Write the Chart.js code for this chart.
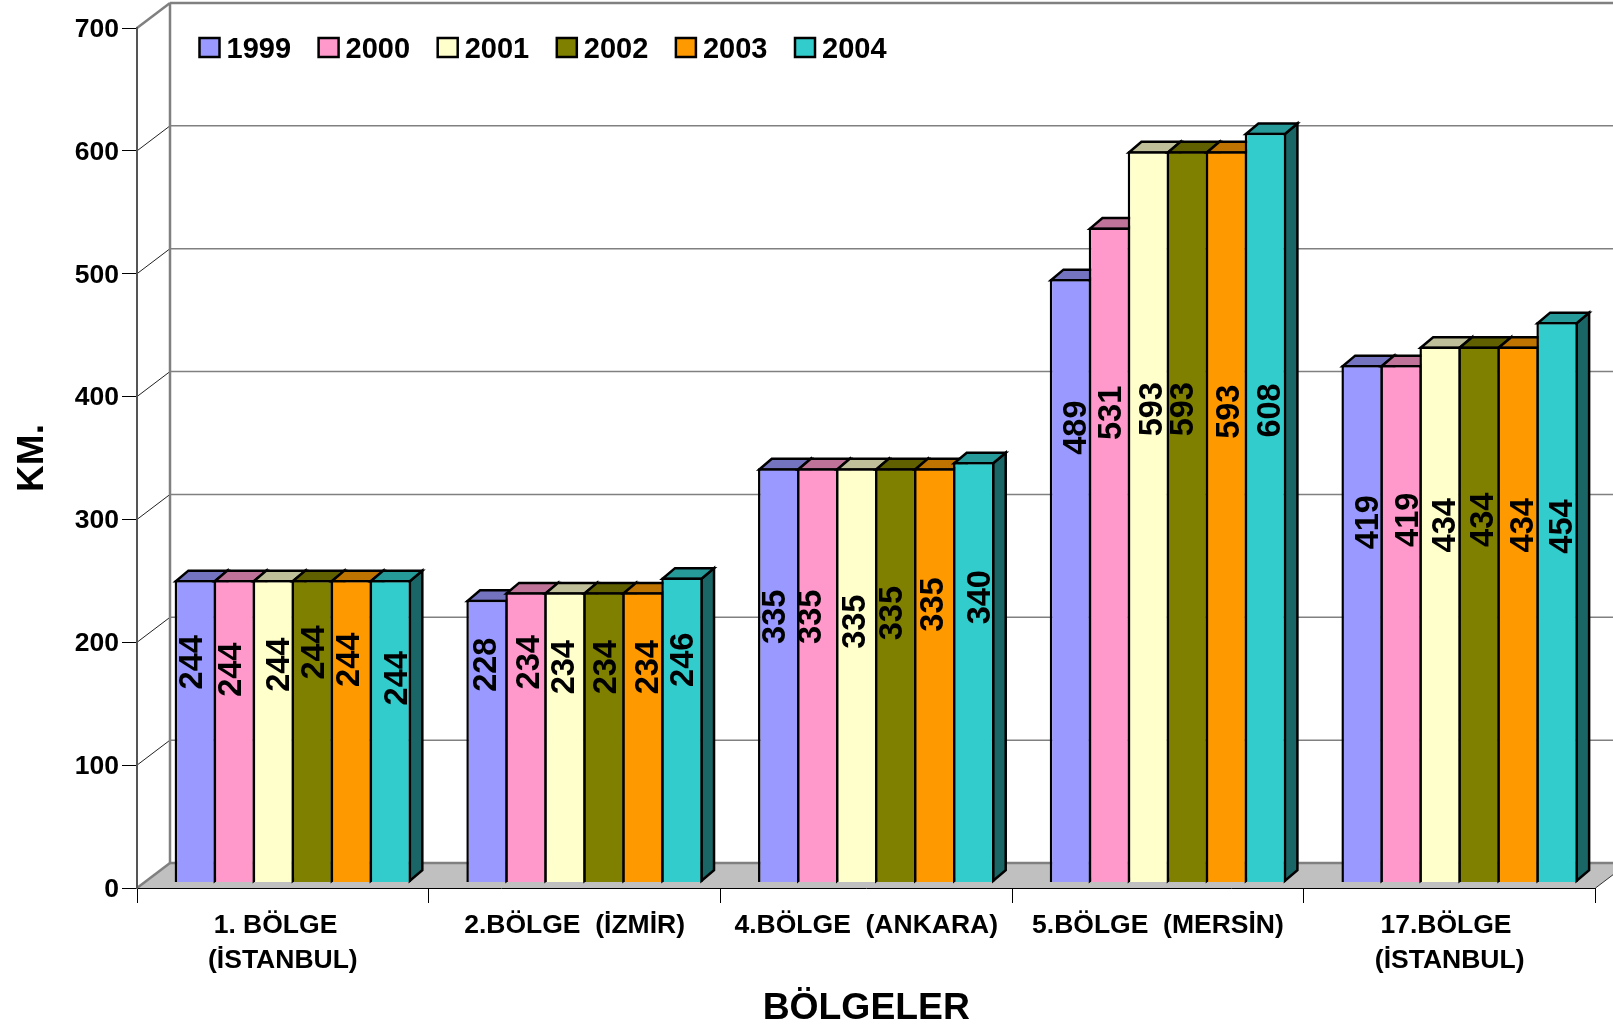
<!DOCTYPE html>
<html>
<head>
<meta charset="utf-8">
<style>html,body{margin:0;padding:0;background:#fff}canvas{display:block}</style>
<script src="https://cdn.jsdelivr.net/npm/chart.js@4/dist/chart.umd.min.js"></script>
</head>
<body>
<canvas id="c" width="1613" height="1029"></canvas>
<script>
const categories = [['1. BÖLGE  ','(İSTANBUL)'],'2.BÖLGE  (İZMİR)','4.BÖLGE  (ANKARA)','5.BÖLGE  (MERSİN)',['17.BÖLGE ','(İSTANBUL)']];
const years = ['1999','2000','2001','2002','2003','2004'];
const v1999 = [244,228,335,489,419];
const v2000 = [244,234,335,531,419];
const v2001 = [244,234,335,593,434];
const v2002 = [244,234,335,593,434];
const v2003 = [244,234,335,593,434];
const v2004 = [244,246,340,608,454];
const seriesValues = [v1999,v2000,v2001,v2002,v2003,v2004];
const yTicks = [0,100,200,300,400,500,600,700];

// Where the rotated value labels sit: axis value of the label centre and sideways nudge, as in the reference
const labelAt = [
  [177,175,214,368,291],[171,177,214,380,293],[175,173,210,383,288.5],
  [185,173,217,383,293],[179,173,224,381,288.5],[164,179,230,382,287.5]];
const labelNudge = [
  [-4,-2,-5,4.5,4.5],[-4,1.5,-7.5,1,6],[5,-2.5,-3,3,4],
  [1,1,-5,-5,2.5],[-3,4,-2.5,2,3.5],[6,0.5,5.5,4,3.5]];

const faceColors = ['#9999FF','#FF99CC','#FFFFCC','#808000','#FF9900','#33CCCC'];
const topColors  = ['#7373BF','#BF7399','#BFBF99','#606000','#BF7300','#269999'];
const sideColors = ['#4D4D80','#804D66','#808066','#404000','#804D00','#1A6666'];

const FONT = '"Liberation Sans", Arial, sans-serif';
const WALL = {dx:33, dy:25};          // depth of the box walls
const BAR_SHIFT = {dx:10, dy:8.25};   // bars stand inside the box
const BAR_DEPTH = {dx:12.5, dy:10.6};
const BW = 2.5;                       // bar outline

const chart3d = {
  id:'chart3d',
  afterLayout(chart){
    const xb = chart.scales.xBars, yb = chart.scales.yBars;
    xb.left += BAR_SHIFT.dx; xb.right += BAR_SHIFT.dx; xb.configure();
    yb.top -= BAR_SHIFT.dy; yb.bottom -= BAR_SHIFT.dy; yb.configure();
  },
  beforeDraw(chart){
    const {ctx, scales:{x,y}} = chart;
    const L = x.left, R = x.right, Y0 = y.getPixelForValue(0), YT = y.getPixelForValue(700);
    ctx.save();
    ctx.fillStyle = '#fff'; ctx.fillRect(0,0,chart.width,chart.height);
    // floor
    ctx.fillStyle = '#C0C0C0';
    ctx.beginPath();
    ctx.moveTo(L,Y0); ctx.lineTo(L+WALL.dx,Y0-WALL.dy); ctx.lineTo(R+WALL.dx,Y0-WALL.dy); ctx.lineTo(R,Y0);
    ctx.closePath(); ctx.fill();
    // gridlines on the back and side walls
    yTicks.forEach(t=>{
      const p = y.getPixelForValue(t);
      const edge = t===0 || t===700;
      ctx.strokeStyle = '#808080'; ctx.lineWidth = edge ? 2.5 : 1.5;
      ctx.beginPath(); ctx.moveTo(L+WALL.dx,p-WALL.dy); ctx.lineTo(R+WALL.dx,p-WALL.dy); ctx.stroke();
      ctx.strokeStyle = edge ? '#808080' : '#222'; ctx.lineWidth = edge ? 2.5 : 1;
      ctx.beginPath(); ctx.moveTo(L,p); ctx.lineTo(L+WALL.dx,p-WALL.dy); ctx.stroke();
    });
    ctx.strokeStyle = '#808080'; ctx.lineWidth = 2.5;
    ctx.beginPath(); ctx.moveTo(L+WALL.dx,YT-WALL.dy); ctx.lineTo(L+WALL.dx,Y0-WALL.dy); ctx.stroke();
    ctx.strokeStyle = '#333'; ctx.lineWidth = 1;
    ctx.beginPath(); ctx.moveTo(R,Y0); ctx.lineTo(R+WALL.dx,Y0-WALL.dy); ctx.stroke();
    ctx.restore();
  },
  beforeDatasetsDraw(chart){
    const ctx = chart.ctx, yb = chart.scales.yBars;
    // Draw left to right so each bar overlaps its left neighbour, label included
    years.forEach((yr,di)=>{
      const meta = chart.getDatasetMeta(di);
      ctx.save();
      ctx.lineWidth = BW; ctx.strokeStyle = '#000'; ctx.lineJoin = 'miter';
      meta.data.forEach(b=>{
        const h = BW/2, l = b.x-b.width/2+h, r = b.x+b.width/2-h, t = b.y+h, bt = b.base-h;
        const dx = BAR_DEPTH.dx, dy = BAR_DEPTH.dy;
        ctx.fillStyle = sideColors[di];
        ctx.beginPath(); ctx.moveTo(r,t); ctx.lineTo(r+dx,t-dy); ctx.lineTo(r+dx,bt-dy); ctx.lineTo(r,bt); ctx.closePath(); ctx.fill(); ctx.stroke();
        ctx.fillStyle = topColors[di];
        ctx.beginPath(); ctx.moveTo(l,t); ctx.lineTo(l+dx,t-dy); ctx.lineTo(r+dx,t-dy); ctx.lineTo(r,t); ctx.closePath(); ctx.fill(); ctx.stroke();
      });
      ctx.restore();
      meta.controller.draw();
      ctx.save();
      ctx.fillStyle = '#000'; ctx.font = 'bold 32.5px '+FONT; ctx.textAlign = 'center'; ctx.textBaseline = 'middle';
      meta.data.forEach((b,ci)=>{
        ctx.save();
        ctx.translate(b.x+labelNudge[di][ci], yb.getPixelForValue(labelAt[di][ci]));
        ctx.rotate(-Math.PI/2);
        ctx.fillText(String(seriesValues[di][ci]),0,2);
        ctx.restore();
      });
      ctx.restore();
    });
    return false;
  },
  afterDraw(chart){
    const ctx = chart.ctx;
    ctx.save();
    ctx.font = 'bold 29px '+FONT; ctx.textBaseline = 'middle'; ctx.textAlign = 'left';
    years.forEach((yr,i)=>{
      const sx = 199.5+119.1*i;
      ctx.fillStyle = faceColors[i]; ctx.strokeStyle = '#000'; ctx.lineWidth = 2.5;
      ctx.fillRect(sx,38,20,19); ctx.strokeRect(sx,38,20,19);
      ctx.fillStyle = '#000';
      ctx.fillText(yr,sx+27,50);
    });
    ctx.restore();
  }
};

new Chart(document.getElementById('c'),{
  type:'bar',
  data:{
    labels:categories,
    datasets:years.map((yr,i)=>({
      label:yr, data:seriesValues[i], xAxisID:'xBars', yAxisID:'yBars',
      backgroundColor:faceColors[i], borderColor:'#000', borderWidth:BW, base:-1.8,
      categoryPercentage:0.802, barPercentage:(39+BW)/39
    }))
  },
  plugins:[chart3d],
  options:{
    responsive:false, animation:false, events:[],
    layout:{padding:{top:28,right:17.5,left:0,bottom:0}},
    plugins:{legend:{display:false},tooltip:{enabled:false}},
    scales:{
      x:{
        type:'category', position:'bottom', offset:true,
        afterFit:s=>{s.height=141;},
        grid:{drawOnChartArea:false,offset:true,color:'#000',tickColor:'#000',tickLength:15,lineWidth:1},
        border:{color:'#000',width:1},
        ticks:{color:'#000',autoSkip:false,maxRotation:0,minRotation:0,padding:6,font:{family:FONT,weight:'bold',size:26.5,lineHeight:1.29}},
        title:{display:true,text:'BÖLGELER',color:'#000',font:{family:FONT,weight:'bold',size:37.3},padding:{top:0,bottom:-2}}
      },
      y:{
        type:'linear', position:'left', min:0, max:700,
        afterFit:s=>{s.width=137;},
        grid:{drawOnChartArea:false,color:'#000',tickColor:'#000',tickLength:15,lineWidth:1},
        border:{color:'#555',width:2},
        ticks:{color:'#000',stepSize:100,padding:3,labelOffset:1.5,font:{family:FONT,weight:'bold',size:26.5}},
        title:{display:true,text:'KM.',color:'#000',font:{family:FONT,weight:'bold',size:37},padding:{top:11,bottom:0}}
      },
      xBars:{type:'category',position:'bottom',display:false,offset:true,grid:{display:false}},
      yBars:{type:'linear',position:'left',display:false,min:0,max:700,grid:{display:false}}
    }
  }
});
</script>
</body>
</html>
